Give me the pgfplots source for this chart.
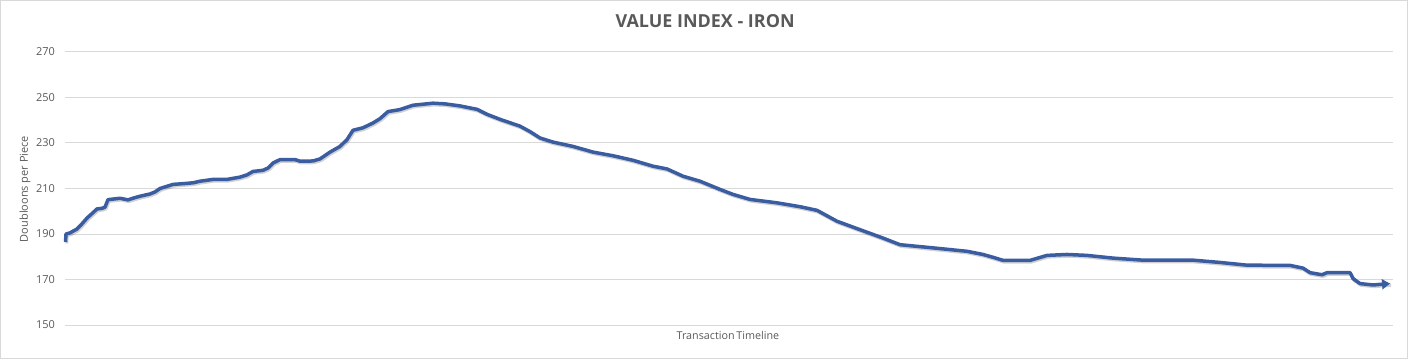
\documentclass[border=0pt]{standalone}
\usepackage{fontspec}
\setmainfont{Open Sans}
\usepackage{pgfplots}
\usepackage{pgfplotstable}
\pgfplotsset{compat=1.18}
\usetikzlibrary{arrows.meta}
\definecolor{txt}{HTML}{595959}
\definecolor{gridc}{HTML}{D9D9D9}
\definecolor{linec}{HTML}{3A5DA2}
\pgfplotstableread{
x y
65.5 186.5
66 190
70 190.5
77 192.2
82 194.5
87 197
92 199
97 201
102 201.3
105 201.8
108 205.1
120 205.7
128 205
135 206
140 206.6
150 207.6
155 208.5
160 210
173 211.8
185 212.2
193 212.5
200 213.2
213 214
227 214
240 215
247 216
253 217.5
263 218
268 219
273 221.2
280 222.7
295 222.7
300 222
313 222.1
320 223
330 226
340 228.5
347 231.5
353 235.6
363 236.7
373 238.8
380 240.7
388 243.8
400 244.7
413 246.6
433 247.5
445 247.2
460 246.3
477 244.8
487 242.6
500 240.4
520 237.4
530 235
540 232.2
553 230.4
573 228.5
593 226
613 224.4
633 222.4
653 219.8
667 218.6
683 215.4
700 213.2
720 209.6
733 207.4
750 205.2
777 203.7
800 202
817 200.4
827 198
837 195.6
860 191.9
883 188.2
900 185.3
933 183.9
967 182.4
983 181
995 179.5
1003 178.4
1030 178.4
1047 180.6
1067 181
1087 180.6
1113 179.4
1143 178.5
1193 178.5
1220 177.5
1247 176.3
1290 176.2
1303 175
1310 173
1322 172.1
1327 173
1350 173
1353 170.4
1360 168.2
1373 167.6
1390 168.2
}\ironData
\begin{document}
\begin{tikzpicture}[x=1bp,y=1bp]
\path[use as bounding box] (0,0) rectangle (1408,359);
\draw[draw=gridc, line width=1bp] (0.5,0.5) rectangle (1407.5,358.5);
\begin{axis}[
  at={(65bp,34bp)}, anchor=south west, scale only axis,
  width=1328bp, height=273bp,
  xmin=65, xmax=1393, ymin=150, ymax=270,
  ytick={150,170,...,270},
  xtick=\empty,
  axis line style={draw=none},
  ymajorgrids, grid style={draw=gridc, line width=1bp},
  major tick length=0pt,
  yticklabel style={font=\fontsize{11}{13}\selectfont, text=txt, xshift=-6.5bp},
  /pgf/number format/assume math mode=true,
  title={VALUE INDEX - IRON},
  title style={at={(axis description cs:0.482,1.068)}, anchor=base, font=\fontsize{18}{21}\selectfont\bfseries, text=txt},
  xlabel={Transaction\,Timeline},
  xlabel style={at={(axis description cs:0.4992,-0.0513)}, anchor=base, font=\fontsize{10.8}{13}\selectfont, text=txt},
  ylabel={Doubloons per Piece},
  ylabel style={at={(axis description cs:-0.0301,0.498)}, rotate=0, anchor=center, font=\fontsize{11}{13}\selectfont, text=txt},
  clip=false,
]
\addplot[black, opacity=0.18, line width=3.5bp, line join=round, transform canvas={xshift=1bp,yshift=-1.5bp}] table {\ironData};
\addplot[linec, line width=3.5bp, line join=round, -{Triangle[length=8bp,width=10bp]}] table {\ironData};
\end{axis}
\end{tikzpicture}
\end{document}
